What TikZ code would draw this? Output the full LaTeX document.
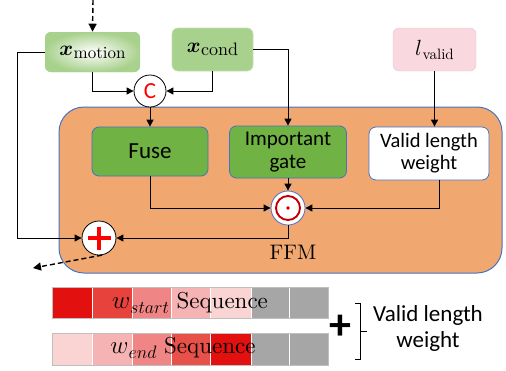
\RequirePackage{fix-cm}
\documentclass[tikz,border=0pt]{standalone}
\usepackage{amsmath,bm}
\usepackage{fontspec}
\setmainfont{lmroman10-regular.otf}[BoldFont=lmroman10-bold.otf, ItalicFont=lmroman10-italic.otf]
\newfontfamily\calib{Carlito}
\usetikzlibrary{arrows.meta,calc}
\definecolor{lgreen}{HTML}{A9D18E}
\definecolor{lpink}{HTML}{F9D9DF}
\definecolor{ffmorange}{HTML}{F1A870}
\definecolor{dgreen}{HTML}{70B244}
\definecolor{bblue}{HTML}{4472C4}
\definecolor{ffred}{HTML}{C00000}
\definecolor{sA}{HTML}{E31010}
\definecolor{sB}{HTML}{E8423C}
\definecolor{sC}{HTML}{F08585}
\definecolor{sD}{HTML}{F6B3B3}
\definecolor{sE}{HTML}{FAD3D3}
\definecolor{sF}{HTML}{E8504A}
\definecolor{sG}{HTML}{A6A6A6}
\tikzset{
  inbox/.style={rounded corners=6, draw=lgreen!70!white, line width=0.6, fill=lgreen, inner sep=0},
  pinkbox/.style={rounded corners=6, draw=lpink!80!gray, line width=0.4, fill=lpink, inner sep=0},
  ffmbox/.style={rounded corners=25, draw=bblue, line width=1, fill=ffmorange, inner sep=0},
  gbox/.style={rounded corners=7, draw=bblue, line width=0.8, fill=dgreen, inner sep=0, align=center,
    font=\calib\fontsize{21}{24}\selectfont},
  wbox/.style={rounded corners=7, draw=bblue, line width=0.8, fill=white, inner sep=0, align=center,
    font=\calib\fontsize{20.5}{23}\selectfont},
  opc/.style={circle, draw=black, line width=0.8, fill=white, inner sep=0},
  arr/.style={draw=black, line width=1, -{Triangle[length=7,width=7]}},
  darr/.style={draw=black, line width=1.4, dash pattern=on 5 off 3, -{Triangle[length=8,width=8]}},
  seqtxt/.style={font=\fontsize{23}{25}\selectfont, inner sep=0},
}
\begin{document}
\begin{tikzpicture}[x=1pt,y=-1pt]
\useasboundingbox (0,0) rectangle (506,370);

% FFM container
\node[ffmbox, minimum width=443, minimum height=166] (ffm) at (280.5,190) {};

% inputs
\node[inbox, minimum width=95, minimum height=40, draw=none, shading=radial, inner color=white, outer color=lgreen] (xm) at (92.5,52)
  {{\fontsize{21}{21}\selectfont$\bm{x}$}\kern0.5pt\raisebox{-3pt}{\fontsize{17}{17}\selectfont motion}};
\node[inbox, minimum width=81, minimum height=43] (xc) at (212.5,49.5)
  {{\fontsize{21}{21}\selectfont$\bm{x}$}\kern0.5pt\raisebox{-3pt}{\fontsize{18}{18}\selectfont cond}};
\node[pinkbox, minimum width=83, minimum height=43] (lv) at (434.5,49.5)
  {{\fontsize{22}{22}\selectfont$l$}\kern0.5pt\raisebox{-4pt}{\fontsize{15}{15}\selectfont valid}};

% concat
\node[opc, minimum size=32, font=\calib\fontsize{23}{24}\selectfont, text=red] (cc) at (150,91) {C};

% inner blocks
\node[gbox, minimum width=116, minimum height=49, font=\calib\fontsize{23}{24}\selectfont] (fuse) at (150,151.5) {Fuse};
\node[gbox, minimum width=117, minimum height=52] (gate) at (288,152) {Important\\[-1pt]gate};
\node[wbox, minimum width=120, minimum height=53] (vl) at (429,153.5) {Valid length\\[-1pt]weight};

% odot
\node[circle, draw=bblue, line width=0.8, fill=white, minimum size=34, inner sep=0] (od) at (288,208) {};
\draw[ffred, line width=1.9] (od) circle[radius=12];
\fill[ffred] (od) circle[radius=1.8];

% plus
\node[opc, minimum size=34] (pl) at (99,238) {};
\draw[red, line width=3.6] ($(pl)+(-11.5,0)$) -- ($(pl)+(11.5,0)$) ($(pl)+(0,-11.5)$) -- ($(pl)+(0,11.5)$);

\node[font=\fontsize{21}{24}\selectfont, inner sep=0] (ffmlab) at (293,252) {FFM};

% connectors
\coordinate (topin) at (93,0);
\draw[darr] (topin) -- (xm.north);
\draw[arr] (xm.south) |- (cc.west);
\draw[arr] (xc.south) |- (cc.east);
\draw[arr] (cc.south) -- (fuse.north);
\draw[arr] (xc.east) -| (gate.north);
\draw[arr] (lv.south) -- (lv.south |- vl.north);
\coordinate (vlout) at (439,180);
\draw[arr] (vlout) |- (od.east);
\draw[arr] (fuse.south) |- (od.west);
\draw[arr] (gate.south) -- (od.north);
\draw[arr] (od.south) |- (pl.east);
\coordinate (leftc) at (17,238);
\draw[arr] (xm.west) -| (leftc) -- (pl.west);
\coordinate (outd) at (33,268);
\draw[darr] (pl.-80) -- (outd);

% sequences
\foreach \xa/\xb/\c [count=\i] in {52/92/sA,92/132/sB,132/171/sC,171/210/sD,210/251/sE,251/289/sG,289/328/sG}{
  \fill[\c] (\xa,287) rectangle (\xb,318);
}
\foreach \xa/\xb/\c [count=\i] in {52/92/sE,92/132/sD,132/171/sC,171/210/sF,210/251/sA,251/289/sG,289/328/sG}{
  \fill[\c] (\xa,333) rectangle (\xb,365);
}
\foreach \xx in {92,132,171,210,251,289}{
  \draw[white, line width=0.8] (\xx,287) -- (\xx,318);
  \draw[white, line width=0.8] (\xx,333) -- (\xx,365);
}
\draw[gray!50, line width=0.6] (52,287) rectangle (328,318);
\draw[gray!50, line width=0.6] (52,333) rectangle (328,365);
\node[seqtxt] (s1) at (190,303) {{\fontsize{25}{25}\selectfont$w$}\raisebox{-5pt}{\fontsize{18}{18}\selectfont$start$}\ Sequence};
\node[seqtxt] (s2) at (183,348) {{\fontsize{25}{25}\selectfont$w$}\raisebox{-5pt}{\fontsize{18}{18}\selectfont$end$}\ Sequence};

\node[font=\calib\bfseries\fontsize{44}{44}\selectfont, inner sep=0] (bigplus) at (340,327) {+};
\draw[black, line width=1] (355,303) -- (360,303) -- (360,359) -- (355,359) (360,331) -- (367,331);
\node[font=\calib\fontsize{23}{26}\selectfont, align=center, inner sep=0] (vlw) at (428,328) {Valid length\\weight};
\end{tikzpicture}
\end{document}
